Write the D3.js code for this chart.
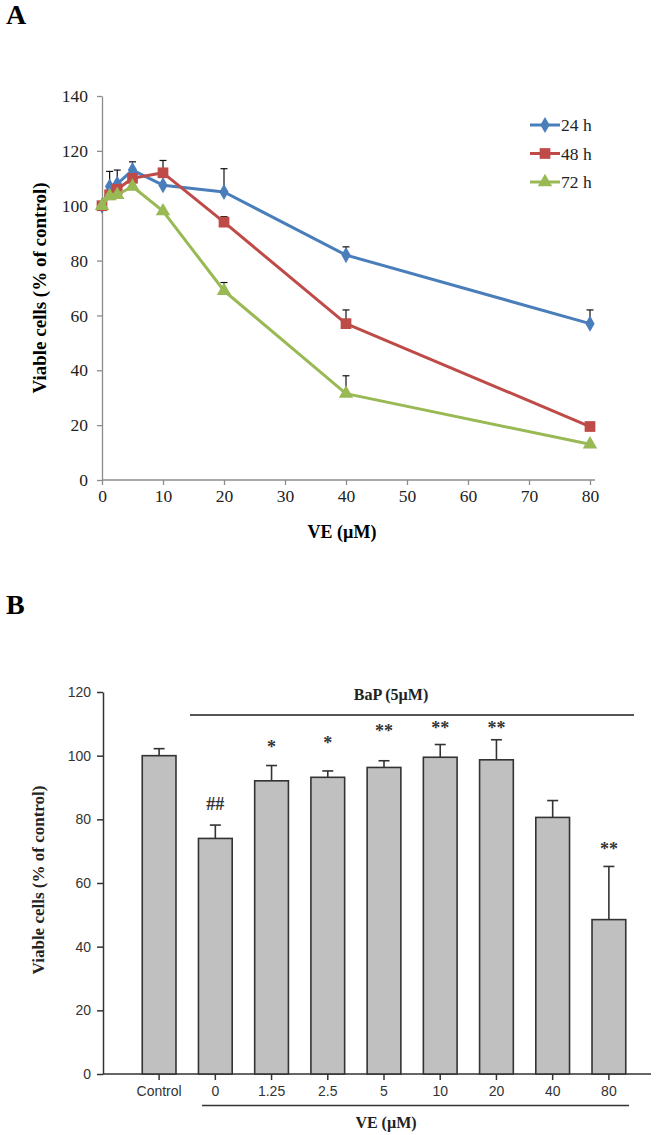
<!DOCTYPE html>
<html>
<head>
<meta charset="utf-8">
<script src="https://cdn.jsdelivr.net/npm/d3@7"></script>
<style>
  html, body { margin: 0; padding: 0; background: #fff; }
  svg { display: block; }
</style>
</head>
<body>
<div id="chart"></div>
<script>
// ---- Panel A data: viability over VE dose, three incubation times ----
const doseA = [0, 1.25, 2.5, 5, 10, 20, 40, 80];
const seriesNames = ['24 h', '48 h', '72 h'];
const vals24 = [100, 107, 108, 113, 107.5, 105, 82, 57];
const err24 = [0, 5.5, 5, 3, 0, 8.5, 3, 5];
const vals48 = [100, 104, 106, 110, 112, 94, 57, 19.5];
const err48 = [0, 0, 0, 0, 4.5, 2, 5, 0];
const vals72 = [100, 103.5, 104, 107, 98, 69, 31.5, 13];
const err72 = [0, 0, 0, 0, 0, 3, 6.5, 0];
const xTicksA = [0, 10, 20, 30, 40, 50, 60, 70, 80];
const yTicksA = [0, 20, 40, 60, 80, 100, 120, 140];

// ---- Panel B data: BaP (5 µM) + VE dose ----
const catsB = ['Control', '0', '1.25', '2.5', '5', '10', '20', '40', '80'];
const valsB = [100, 74, 92.1, 93.2, 96.3, 99.5, 98.7, 80.6, 48.5];
const errB = [2.2, 4.2, 4.8, 2, 2.1, 4, 6.3, 5.3, 16.7];
const sigB = ['', '##', '*', '*', '**', '**', '**', '', '**'];
const sigLevelB = [0, 84.5, 104, 105.2, 109, 110, 110, 0, 72];
const yTicksB = [0, 20, 40, 60, 80, 100, 120];

const W = 672, H = 1135;
const serif = '"Liberation Serif", "Times New Roman", serif';
const sans = '"Liberation Sans", Arial, sans-serif';
const colors = ['#4a7ebb', '#be4b48', '#98b954'];

const svg = d3.select('#chart').append('svg')
  .attr('width', W).attr('height', H);

// panel letters
svg.append('text').attr('x', 6).attr('y', 24)
  .attr('font-family', serif).attr('font-weight', 'bold').attr('font-size', 28)
  .text('A');
svg.append('text').attr('x', 6).attr('y', 614)
  .attr('font-family', serif).attr('font-weight', 'bold').attr('font-size', 28)
  .text('B');

// ================= Panel A =================
const xA = d3.scaleLinear().domain([0, 80]).range([102, 590]);
const yA = d3.scaleLinear().domain([0, 140]).range([480, 96]);

const axisGrey = '#8c8c8c';

const gxA = svg.append('g')
  .attr('transform', `translate(0,${yA(0)})`)
  .call(d3.axisBottom(xA).tickValues(xTicksA).tickSize(5).tickPadding(5).tickSizeOuter(0));
const gyA = svg.append('g')
  .attr('transform', `translate(${xA(0)},0)`)
  .call(d3.axisLeft(yA).tickValues(yTicksA).tickSize(5).tickPadding(9).tickSizeOuter(0));
[gxA, gyA].forEach((g) => {
  g.select('.domain').attr('stroke', axisGrey).attr('stroke-width', 1.3);
  g.selectAll('.tick line').attr('stroke', axisGrey).attr('stroke-width', 1.3);
  g.selectAll('.tick text').attr('font-family', serif).attr('font-size', 17.5)
    .attr('fill', '#222');
});
// extend x domain slightly beyond 80 like the reference
gxA.select('.domain').attr('d', `M${xA(0)},0H${xA(80) + 5}`);

svg.append('text')
  .attr('x', 342).attr('y', 538)
  .attr('text-anchor', 'middle')
  .attr('font-family', serif).attr('font-weight', 'bold').attr('font-size', 18)
  .text('VE (µM)');
svg.append('text')
  .attr('transform', 'translate(46,288) rotate(-90)')
  .attr('text-anchor', 'middle')
  .attr('font-family', serif).attr('font-weight', 'bold').attr('font-size', 19)
  .text('Viable cells (% of control)');

const seriesA = [
  { name: seriesNames[0], vals: vals24, errs: err24, shape: d3.symbolDiamond, size: 75 },
  { name: seriesNames[1], vals: vals48, errs: err48, shape: d3.symbolSquare, size: 115 },
  { name: seriesNames[2], vals: vals72, errs: err72, shape: d3.symbolTriangle, size: 90 },
];

// error bars (drawn first, behind lines)
seriesA.forEach((s) => {
  const pts = doseA.map((d, i) => ({ x: d, y: s.vals[i], e: s.errs[i] })).filter((p) => p.e > 0);
  const g = svg.append('g').attr('stroke', '#111').attr('stroke-width', 1.2);
  g.selectAll('line.v').data(pts).join('line')
    .attr('x1', (p) => xA(p.x)).attr('x2', (p) => xA(p.x))
    .attr('y1', (p) => yA(p.y)).attr('y2', (p) => yA(p.y + p.e));
  g.selectAll('line.c').data(pts).join('line')
    .attr('x1', (p) => xA(p.x) - 3.5).attr('x2', (p) => xA(p.x) + 3.5)
    .attr('y1', (p) => yA(p.y + p.e)).attr('y2', (p) => yA(p.y + p.e));
});

const lineA = d3.line().x((p) => xA(p[0])).y((p) => yA(p[1]));
seriesA.forEach((s, k) => {
  const pts = doseA.map((d, i) => [d, s.vals[i]]);
  svg.append('path').datum(pts)
    .attr('fill', 'none').attr('stroke', colors[k]).attr('stroke-width', 3)
    .attr('stroke-linejoin', 'round')
    .attr('d', lineA);
  svg.append('g').selectAll('path').data(pts).join('path')
    .attr('transform', (p) => `translate(${xA(p[0])},${yA(p[1])})`)
    .attr('d', d3.symbol().type(s.shape).size(s.size))
    .attr('fill', colors[k]);
});

// legend
const legend = svg.append('g');
seriesA.forEach((s, k) => {
  const ly = 125 + k * 28.5;
  legend.append('line').attr('x1', 530).attr('x2', 560).attr('y1', ly).attr('y2', ly)
    .attr('stroke', colors[k]).attr('stroke-width', 3);
  legend.append('path').attr('transform', `translate(545,${ly})`)
    .attr('d', d3.symbol().type(s.shape).size(s.size)).attr('fill', colors[k]);
  legend.append('text').attr('x', 561).attr('y', ly + 6)
    .attr('font-family', serif).attr('font-size', 17.5).attr('fill', '#222')
    .text(s.name);
});

// ================= Panel B =================
const xB = d3.scaleBand().domain(catsB).range([131, 637]).paddingInner(0.4).paddingOuter(0.2);
const yB = d3.scaleLinear().domain([0, 120]).range([1074, 692]);
const dark = '#333';

const gyB = svg.append('g')
  .attr('transform', 'translate(103,0)')
  .call(d3.axisLeft(yB).tickValues(yTicksB).tickSize(6).tickPadding(6).tickSizeOuter(0));
const gxB = svg.append('g')
  .attr('transform', `translate(0,${yB(0)})`)
  .call(d3.axisBottom(xB).tickSize(6).tickPadding(6).tickSizeOuter(0));
gxB.select('.domain').attr('d', 'M103,0H651');
[gxB, gyB].forEach((g) => {
  g.select('.domain').attr('stroke', dark).attr('stroke-width', 1.5);
  g.selectAll('.tick line').attr('stroke', dark).attr('stroke-width', 1.5);
});
gyB.selectAll('.tick text').attr('font-family', sans).attr('font-size', 14).attr('fill', dark);
gxB.selectAll('.tick text').attr('font-family', sans).attr('font-size', 14).attr('fill', dark);

// error bars B
const gErrB = svg.append('g').attr('stroke', dark).attr('stroke-width', 1.6);
catsB.forEach((c, i) => {
  const cx = xB(c) + xB.bandwidth() / 2;
  gErrB.append('line').attr('x1', cx).attr('x2', cx)
    .attr('y1', yB(valsB[i])).attr('y2', yB(valsB[i] + errB[i]));
  gErrB.append('line').attr('x1', cx - 5.5).attr('x2', cx + 5.5)
    .attr('y1', yB(valsB[i] + errB[i])).attr('y2', yB(valsB[i] + errB[i]));
});

svg.append('g').selectAll('rect').data(catsB).join('rect')
  .attr('x', (c) => xB(c))
  .attr('y', (c, i) => yB(valsB[i]))
  .attr('width', xB.bandwidth())
  .attr('height', (c, i) => yB(0) - yB(valsB[i]))
  .attr('fill', '#c0c0c0').attr('stroke', dark).attr('stroke-width', 1.6);

// significance marks
svg.append('g').selectAll('text').data(catsB).join('text')
  .filter((c, i) => sigB[i] !== '')
  .attr('x', (c) => xB(c) + xB.bandwidth() / 2)
  .attr('y', (c) => {
    const i = catsB.indexOf(c);
    return yB(sigLevelB[i]) + (sigB[i].startsWith('#') ? 5 : 10);
  })
  .attr('text-anchor', 'middle')
  .attr('font-family', serif).attr('font-weight', 'bold').attr('font-size', 18)
  .attr('fill', dark)
  .text((c) => sigB[catsB.indexOf(c)]);

// BaP bracket
svg.append('line').attr('x1', 190).attr('x2', 634).attr('y1', 715).attr('y2', 715)
  .attr('stroke', '#555').attr('stroke-width', 1.8);
svg.append('text').attr('x', 391).attr('y', 700)
  .attr('text-anchor', 'middle')
  .attr('font-family', serif).attr('font-weight', 'bold').attr('font-size', 16)
  .attr('fill', '#222')
  .text('BaP (5µM)');

// VE underline and label
svg.append('line').attr('x1', 202).attr('x2', 629).attr('y1', 1105.5).attr('y2', 1105.5)
  .attr('stroke', dark).attr('stroke-width', 1.6);
svg.append('text').attr('x', 386).attr('y', 1128)
  .attr('text-anchor', 'middle')
  .attr('font-family', serif).attr('font-weight', 'bold').attr('font-size', 16)
  .attr('fill', '#222')
  .text('VE (µM)');
svg.append('text')
  .attr('transform', 'translate(44,880) rotate(-90)')
  .attr('text-anchor', 'middle')
  .attr('font-family', serif).attr('font-weight', 'bold').attr('font-size', 17)
  .attr('fill', '#222')
  .text('Viable cells (% of control)');
</script>
</body>
</html>
